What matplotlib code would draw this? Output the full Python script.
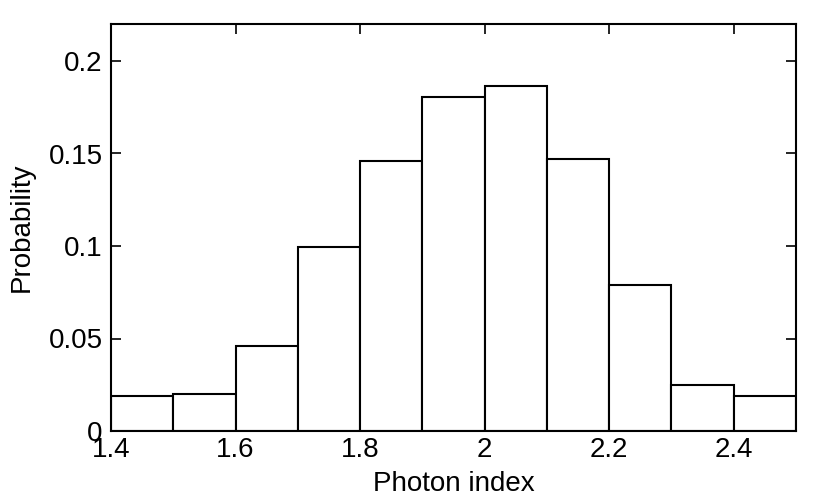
import matplotlib.pyplot as plt
import numpy as np

# Histogram kutuları (sol kenar) ve olasılıklar
bin_left = [1.4, 1.5, 1.6, 1.7, 1.8, 1.9, 2.0, 2.1, 2.2, 2.3, 2.4]
prob = [0.019, 0.020, 0.046, 0.0997, 0.1458, 0.1805, 0.1864, 0.1469, 0.0791, 0.0249, 0.019]
xticks = [1.4, 1.6, 1.8, 2.0, 2.2, 2.4]
xtick_labels = ["1.4", "1.6", "1.8", "2", "2.2", "2.4"]
yticks = [0, 0.05, 0.1, 0.15, 0.2]
ytick_labels = ["0", "0.05", "0.1", "0.15", "0.2"]

plt.rcParams['font.family'] = ['Liberation Sans', 'DejaVu Sans']

fig = plt.figure(figsize=(8.3, 4.98), dpi=100)
ax = fig.add_axes([111 / 830, 1 - 431 / 498, (796 - 111) / 830, (431 - 24) / 498])

ax.bar(bin_left, prob, width=0.1, align="edge", facecolor="white",
       edgecolor="black", linewidth=1.5)

ax.set_xlim(1.4, 2.5)
ax.set_ylim(0, 0.22)
ax.set_xticks(xticks)
ax.set_xticklabels(xtick_labels)
ax.set_yticks(yticks)
ax.set_yticklabels(ytick_labels)
ax.tick_params(direction="in", top=True, right=True, length=7, width=1.2,
               labelsize=20, pad=4)
ax.tick_params(axis="y", pad=6)
for s in ax.spines.values():
    s.set_linewidth(1.5)

ax.set_xlabel("Photon index", fontsize=20, labelpad=6)
ax.set_ylabel("Probability", fontsize=20, labelpad=10)

fig.savefig("out.png", dpi=100)
